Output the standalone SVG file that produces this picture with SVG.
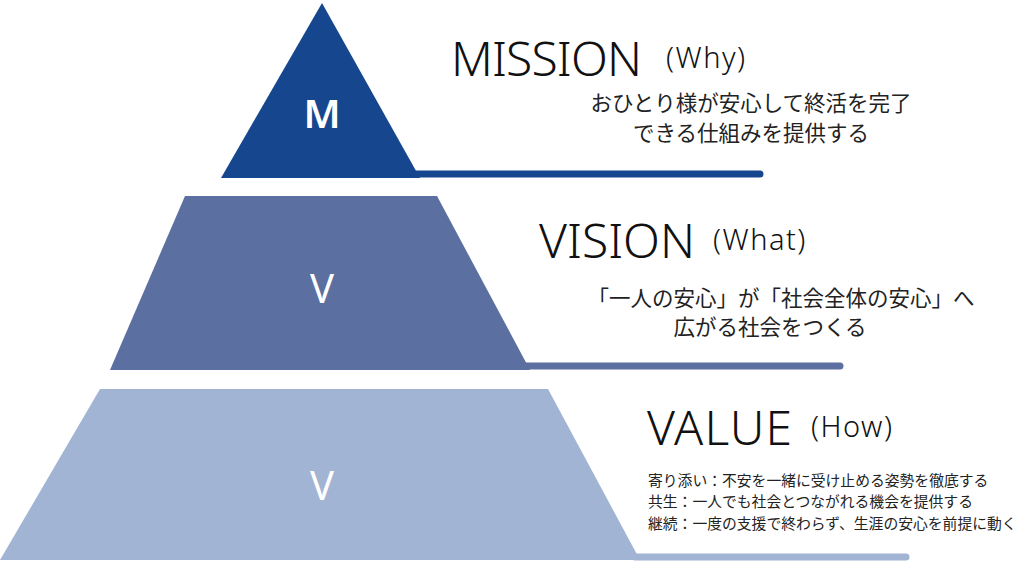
<svg xmlns="http://www.w3.org/2000/svg" width="1024" height="576" viewBox="0 0 1024 576">
<style>
.t{font-family:"Noto Sans","Noto Sans CJK JP",sans-serif;fill:#111;}
.h{font-size:48px;font-weight:300;}
.p{font-size:29px;font-weight:300;letter-spacing:1.5px;}
.j{font-family:"Noto Sans CJK JP",sans-serif;font-size:21.5px;fill:#222;}
.s{font-family:"Noto Sans CJK JP",sans-serif;font-size:14.8px;fill:#222;}
.l{font-family:"Noto Sans","DejaVu Sans",sans-serif;fill:#fff;text-anchor:middle;}
.bar{stroke-width:7;stroke-linecap:round;fill:none;}
</style>
<rect width="1024" height="576" fill="#fff"/>
<g id="connectors">
<line class="bar" x1="415" y1="174" x2="760" y2="174" stroke="#16478e"/>
<line class="bar" x1="525" y1="366" x2="840" y2="366" stroke="#5c6fa1"/>
<line class="bar" x1="635" y1="557" x2="906" y2="557" stroke="#a1b4d3"/>
</g>
<g id="mission">
<polygon points="322,3 420,178 221,178" fill="#16478e"/>
<text class="l" x="322" y="128" font-size="40" font-weight="600">M</text>
<text class="t h" x="451" y="76" textLength="191">MISSION</text>
<text class="t p" x="666" y="68">(Why)</text>
<text class="j" x="751" y="111" text-anchor="middle">おひとり様が安心して終活を完了</text>
<text class="j" x="751" y="141" text-anchor="middle">できる仕組みを提供する</text>
</g>
<g id="vision">
<polygon points="185,196 437,196 530,370 110,370" fill="#5c6fa1"/>
<text class="l" x="322" y="303" font-size="40" font-weight="400">V</text>
<text class="t h" x="539" y="258" textLength="156">VISION</text>
<text class="t p" x="713" y="250">(What)</text>
<text class="j" x="781" y="306" text-anchor="middle">「一人の安心」が「社会全体の安心」へ</text>
<text class="j" x="770" y="335" text-anchor="middle">広がる社会をつくる</text>
</g>
<g id="value">
<polygon points="100,389 548,389 640,560 0,560" fill="#a1b4d3"/>
<text class="l" x="322" y="500" font-size="40" font-weight="400">V</text>
<text class="t h" x="647" y="445" textLength="145">VALUE</text>
<text class="t p" x="811" y="437">(How)</text>
<text class="s" x="648" y="486">寄り添い：不安を一緒に受け止める姿勢を徹底する</text>
<text class="s" x="648" y="507">共生：一人でも社会とつながれる機会を提供する</text>
<text class="s" x="648" y="529">継続：一度の支援で終わらず、生涯の安心を前提に動く</text>
</g>
</svg>
